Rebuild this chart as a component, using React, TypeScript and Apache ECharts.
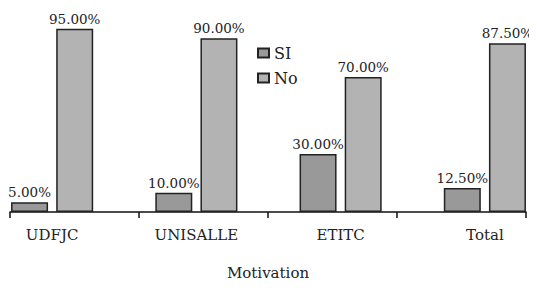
import React, { useEffect, useRef } from "react";
import * as echarts from "echarts";

const categories = ["UDFJC", "UNISALLE", "ETITC", "Total"];
const siValues = [5, 10, 30, 12.5];
const noValues = [95, 90, 70, 87.5];
const seriesNames = ["SI", "No"];
const axisName = "Motivation";

const FONT = "DejaVu Serif";

export default function App() {
  const ref = useRef<HTMLDivElement>(null);
  useEffect(() => {
    if (!ref.current) return;
    const chart = echarts.init(ref.current, undefined, { renderer: "svg" });
    const labelCfg = {
      show: true,
      position: "top",
      distance: 3,
      fontFamily: FONT,
      fontSize: 13.5,
      color: "#222",
      formatter: (p: any) => Number(p.value).toFixed(2) + "%",
    };
    chart.setOption({
      animation: false,
      backgroundColor: "#fff",
      textStyle: { fontFamily: FONT },
      grid: [
        { left: 0, right: 0, top: 19, bottom: 76 },
        { left: 30, right: 31, top: 19, bottom: 76 },
      ],
      legend: {
        orient: "vertical",
        left: 272,
        top: 40,
        itemWidth: 11,
        itemHeight: 9,
        itemGap: 9,
        icon: "rect",
        textStyle: { fontFamily: FONT, fontSize: 16, color: "#222" },
        data: seriesNames,
      },
      xAxis: [
        {
          type: "category",
          gridIndex: 0,
          data: categories,
          axisLine: { show: false },
          axisTick: { show: false },
          axisLabel: { fontFamily: FONT, fontSize: 15, color: "#222", margin: 15 },
        },
        {
          type: "category",
          gridIndex: 1,
          data: categories,
          boundaryGap: true,
          axisLine: { show: true, lineStyle: { color: "#111", width: 1.5 } },
          axisTick: { show: true, length: 6, lineStyle: { color: "#111", width: 1.5 } },
          axisLabel: { show: false },
          name: axisName,
          nameLocation: "middle",
          nameGap: 53,
          nameTextStyle: { fontFamily: FONT, fontSize: 15, color: "#222" },
        },
      ],
      yAxis: [
        { type: "value", gridIndex: 0, min: 0, max: 100, show: false },
        { type: "value", gridIndex: 1, min: 0, max: 100, show: false },
      ],
      series: [
        {
          name: seriesNames[0],
          type: "bar",
          xAxisIndex: 0,
          yAxisIndex: 0,
          data: siValues,
          barWidth: 37,
          barGap: "22%",
          itemStyle: { color: "#999999", borderColor: "#222", borderWidth: 1.5 },
          label: labelCfg,
        },
        {
          name: seriesNames[1],
          type: "bar",
          xAxisIndex: 0,
          yAxisIndex: 0,
          data: noValues,
          barWidth: 37,
          barGap: "22%",
          itemStyle: { color: "#b3b3b3", borderColor: "#222", borderWidth: 1.5 },
          label: labelCfg,
        },
      ],
    });
    return () => chart.dispose();
  }, []);
  return (
    <div style={{ width: 537, height: 288, margin: -8, overflow: "hidden", position: "relative" }}>
      <div ref={ref} style={{ width: 577, height: 288, marginLeft: -20 }} />
    </div>
  );
}
